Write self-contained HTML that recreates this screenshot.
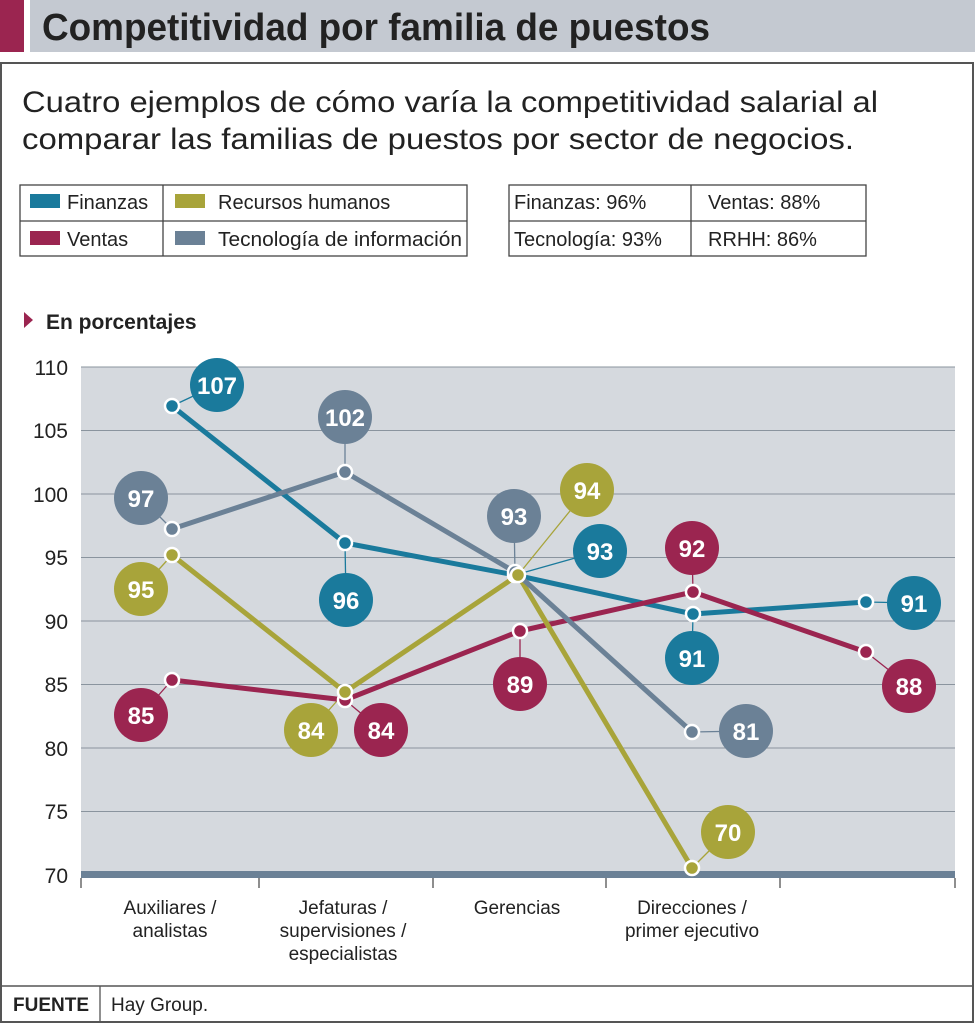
<!DOCTYPE html><html><head><style>
body{margin:0;background:#fff;font-family:"Liberation Sans",sans-serif;}
</style></head><body>
<svg width="975" height="1024" xmlns="http://www.w3.org/2000/svg" font-family="Liberation Sans, sans-serif">
<rect x="0" y="0" width="24" height="52" fill="#9b2550"/>
<rect x="30" y="0" width="945" height="52" fill="#c4c9d1"/>
<text x="42" y="40" font-size="38" font-weight="bold" fill="#222" textLength="668" lengthAdjust="spacingAndGlyphs">Competitividad por familia de puestos</text>
<rect x="1" y="63" width="972" height="959" fill="none" stroke="#555" stroke-width="2"/>
<text x="22" y="112" font-size="30" fill="#222" textLength="856" lengthAdjust="spacingAndGlyphs">Cuatro ejemplos de cómo varía la competitividad salarial al</text>
<text x="22" y="149" font-size="30" fill="#222" textLength="832" lengthAdjust="spacingAndGlyphs">comparar las familias de puestos por sector de negocios.</text>
<g stroke="#444" stroke-width="1.3" fill="none">
<rect x="20" y="185" width="447" height="71"/><line x1="20" y1="221" x2="467" y2="221"/><line x1="163" y1="185" x2="163" y2="256"/>
<rect x="509" y="185" width="357" height="71"/><line x1="509" y1="221" x2="866" y2="221"/><line x1="691" y1="185" x2="691" y2="256"/>
</g>
<g font-size="20" fill="#222">
<rect x="30" y="194" width="30" height="14" fill="#1a7a9c"/><text x="67" y="209">Finanzas</text>
<rect x="30" y="231" width="30" height="14" fill="#9b2550"/><text x="67" y="246">Ventas</text>
<rect x="175" y="194" width="30" height="14" fill="#a8a43a"/><text x="218" y="209">Recursos humanos</text>
<rect x="175" y="231" width="30" height="14" fill="#6b8196"/><text x="218" y="246" textLength="244" lengthAdjust="spacingAndGlyphs">Tecnología de información</text>
<text x="514" y="209">Finanzas: 96%</text><text x="708" y="209">Ventas: 88%</text>
<text x="514" y="246">Tecnología: 93%</text><text x="708" y="246">RRHH: 86%</text>
</g>
<polygon points="24,312 33,320 24,328" fill="#9b2550"/>
<text x="46" y="329" font-size="21" font-weight="bold" fill="#222">En porcentajes</text>
<rect x="81" y="367" width="874" height="508" fill="#d5d9de"/>
<g stroke="#8a949e" stroke-width="1">
<line x1="81" y1="367" x2="955" y2="367"/><line x1="81" y1="430.5" x2="955" y2="430.5"/><line x1="81" y1="494" x2="955" y2="494"/><line x1="81" y1="557.5" x2="955" y2="557.5"/><line x1="81" y1="621" x2="955" y2="621"/><line x1="81" y1="684.5" x2="955" y2="684.5"/><line x1="81" y1="748" x2="955" y2="748"/><line x1="81" y1="811.5" x2="955" y2="811.5"/>
</g>
<rect x="81" y="871" width="874" height="7" fill="#6b8196"/>
<g stroke="#444" stroke-width="1.2"><line x1="81" y1="878" x2="81" y2="888"/><line x1="259" y1="878" x2="259" y2="888"/><line x1="433" y1="878" x2="433" y2="888"/><line x1="606" y1="878" x2="606" y2="888"/><line x1="780" y1="878" x2="780" y2="888"/><line x1="955" y1="878" x2="955" y2="888"/></g>
<g font-size="21" fill="#222" text-anchor="end">
<text x="68" y="375">110</text><text x="68" y="438">105</text><text x="68" y="502">100</text><text x="68" y="565">95</text><text x="68" y="629">90</text><text x="68" y="692">85</text><text x="68" y="756">80</text><text x="68" y="819">75</text><text x="68" y="883">70</text>
</g>
<g font-size="19" fill="#222" text-anchor="middle">
<text x="170" y="914">Auxiliares /</text><text x="170" y="937">analistas</text>
<text x="343" y="914">Jefaturas /</text><text x="343" y="937">supervisiones /</text><text x="343" y="960">especialistas</text>
<text x="517" y="914">Gerencias</text>
<text x="692" y="914">Direcciones /</text><text x="692" y="937">primer ejecutivo</text>
</g>
<g stroke-width="1.3">
<g stroke="#1a7a9c"><line x1="172" y1="406" x2="217" y2="385"/><line x1="345" y1="543" x2="346" y2="600"/><line x1="515" y1="575" x2="600" y2="551"/><line x1="693" y1="614" x2="692" y2="658"/><line x1="866" y1="602" x2="914" y2="603"/></g>
<g stroke="#9b2550"><line x1="172" y1="680" x2="141" y2="715"/><line x1="345" y1="700" x2="381" y2="730"/><line x1="520" y1="631" x2="520" y2="684"/><line x1="693" y1="592" x2="692" y2="548"/><line x1="866" y1="652" x2="909" y2="686"/></g>
<g stroke="#a8a43a"><line x1="172" y1="555" x2="141" y2="589"/><line x1="345" y1="692" x2="311" y2="730"/><line x1="518" y1="575" x2="587" y2="490"/><line x1="692" y1="868" x2="728" y2="832"/></g>
<g stroke="#6b8196"><line x1="172" y1="529" x2="141" y2="498"/><line x1="345" y1="472" x2="345" y2="417"/><line x1="515" y1="572" x2="514" y2="516"/><line x1="692" y1="732" x2="746" y2="731"/></g>
</g>
<g fill="none" stroke-width="5" stroke-linejoin="round">
<polyline stroke="#1a7a9c" points="172,406 345,543 515,575 693,614 866,602"/>
<polyline stroke="#9b2550" points="172,680 345,700 520,631 693,592 866,652"/>
<polyline stroke="#a8a43a" points="172,555 345,692 518,575 692,868"/>
<polyline stroke="#6b8196" points="172,529 345,472 515,572 692,732"/>
</g>
<g stroke="#fff" stroke-width="2.5">
<g fill="#1a7a9c"><circle cx="172" cy="406" r="7"/><circle cx="345" cy="543" r="7"/><circle cx="515" cy="575" r="7"/><circle cx="693" cy="614" r="7"/><circle cx="866" cy="602" r="7"/></g>
<g fill="#9b2550"><circle cx="172" cy="680" r="7"/><circle cx="345" cy="700" r="7"/><circle cx="520" cy="631" r="7"/><circle cx="693" cy="592" r="7"/><circle cx="866" cy="652" r="7"/></g>
<g fill="#6b8196"><circle cx="172" cy="529" r="7"/><circle cx="345" cy="472" r="7"/><circle cx="515" cy="572" r="7"/><circle cx="692" cy="732" r="7"/></g>
<g fill="#a8a43a"><circle cx="172" cy="555" r="7"/><circle cx="345" cy="692" r="7"/><circle cx="518" cy="575" r="7"/><circle cx="692" cy="868" r="7"/></g>
</g>
<g font-size="24" font-weight="bold" fill="#fff" text-anchor="middle">
<g><circle cx="217" cy="385" r="27" fill="#1a7a9c"/><text x="217" y="394">107</text></g>
<g><circle cx="346" cy="600" r="27" fill="#1a7a9c"/><text x="346" y="609">96</text></g>
<g><circle cx="600" cy="551" r="27" fill="#1a7a9c"/><text x="600" y="560">93</text></g>
<g><circle cx="692" cy="658" r="27" fill="#1a7a9c"/><text x="692" y="667">91</text></g>
<g><circle cx="914" cy="603" r="27" fill="#1a7a9c"/><text x="914" y="612">91</text></g>
<g><circle cx="141" cy="715" r="27" fill="#9b2550"/><text x="141" y="724">85</text></g>
<g><circle cx="381" cy="730" r="27" fill="#9b2550"/><text x="381" y="739">84</text></g>
<g><circle cx="520" cy="684" r="27" fill="#9b2550"/><text x="520" y="693">89</text></g>
<g><circle cx="692" cy="548" r="27" fill="#9b2550"/><text x="692" y="557">92</text></g>
<g><circle cx="909" cy="686" r="27" fill="#9b2550"/><text x="909" y="695">88</text></g>
<g><circle cx="141" cy="589" r="27" fill="#a8a43a"/><text x="141" y="598">95</text></g>
<g><circle cx="311" cy="730" r="27" fill="#a8a43a"/><text x="311" y="739">84</text></g>
<g><circle cx="587" cy="490" r="27" fill="#a8a43a"/><text x="587" y="499">94</text></g>
<g><circle cx="728" cy="832" r="27" fill="#a8a43a"/><text x="728" y="841">70</text></g>
<g><circle cx="141" cy="498" r="27" fill="#6b8196"/><text x="141" y="507">97</text></g>
<g><circle cx="345" cy="417" r="27" fill="#6b8196"/><text x="345" y="426">102</text></g>
<g><circle cx="514" cy="516" r="27" fill="#6b8196"/><text x="514" y="525">93</text></g>
<g><circle cx="746" cy="731" r="27" fill="#6b8196"/><text x="746" y="740">81</text></g>
</g>
<line x1="1" y1="986" x2="973" y2="986" stroke="#555" stroke-width="1.5"/>
<line x1="100" y1="986" x2="100" y2="1022" stroke="#555" stroke-width="1.3"/>
<text x="13" y="1011" font-size="19" font-weight="bold" fill="#222">FUENTE</text>
<text x="111" y="1011" font-size="19" fill="#222">Hay Group.</text>
</svg>
</body></html>
